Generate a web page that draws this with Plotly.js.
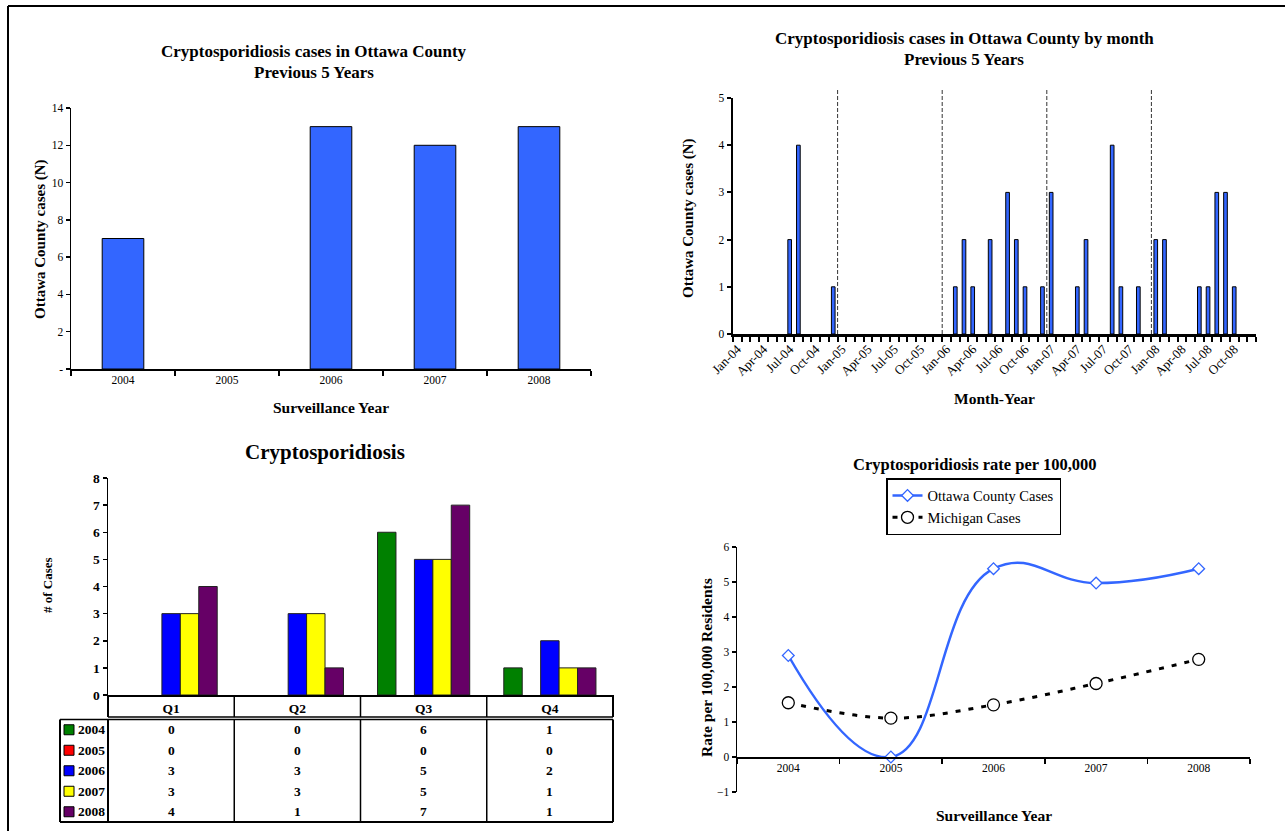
<!DOCTYPE html>
<html><head><meta charset="utf-8">
<script src="https://cdn.plot.ly/plotly-3.0.1.min.js"></script>
<style>html,body{margin:0;padding:0;background:#fff}#chart{width:1285px;height:831px}</style>
</head><body><div id="chart"></div>
<script>
// ---------- DATA ----------
const years = ['2004', '2005', '2006', '2007', '2008'];
const annualCases = [7, 0, 13, 12, 13];

const months = [
  'Jan-04','Feb-04','Mar-04','Apr-04','May-04','Jun-04','Jul-04','Aug-04','Sep-04','Oct-04','Nov-04','Dec-04',
  'Jan-05','Feb-05','Mar-05','Apr-05','May-05','Jun-05','Jul-05','Aug-05','Sep-05','Oct-05','Nov-05','Dec-05',
  'Jan-06','Feb-06','Mar-06','Apr-06','May-06','Jun-06','Jul-06','Aug-06','Sep-06','Oct-06','Nov-06','Dec-06',
  'Jan-07','Feb-07','Mar-07','Apr-07','May-07','Jun-07','Jul-07','Aug-07','Sep-07','Oct-07','Nov-07','Dec-07',
  'Jan-08','Feb-08','Mar-08','Apr-08','May-08','Jun-08','Jul-08','Aug-08','Sep-08','Oct-08','Nov-08','Dec-08'
];
const monthlyCases = [
  0,0,0,0,0,0,2,4,0,0,0,1,
  0,0,0,0,0,0,0,0,0,0,0,0,
  0,1,2,1,0,2,0,3,2,1,0,1,
  3,0,0,1,2,0,0,4,1,0,1,0,
  2,2,0,0,0,1,1,3,3,1,0,0
];
const labeledMonths = ['Jan', 'Apr', 'Jul', 'Oct'];

const quarters = ['Q1', 'Q2', 'Q3', 'Q4'];
const q2004 = [0, 0, 6, 1];
const q2005 = [0, 0, 0, 0];
const q2006 = [3, 3, 5, 2];
const q2007 = [3, 3, 5, 1];
const q2008 = [4, 1, 7, 1];
const quarterColors = ['#008000', '#ff0000', '#0000ff', '#ffff00', '#660066'];

const ottawaRate = [2.9, 0, 5.38, 4.97, 5.38];
const michiganRate = [1.55, 1.11, 1.49, 2.1, 2.79];

// ---------- HELPERS ----------
const W = 1285, H = 831;
const px = v => v / W;
const py = v => 1 - v / H;
const FONT = 'Liberation Serif, Times New Roman, serif';
const BLUE = '#3366ff';
const edge = (vals, w) => vals.map(v => v === 0 ? 0 : w);

const quarterSeries = [q2004, q2005, q2006, q2007, q2008];

const traces = [];
// Panel 1
traces.push({
  type: 'bar', x: years, y: annualCases, xaxis: 'x', yaxis: 'y', width: 0.4,
  marker: {color: BLUE, line: {color: '#000', width: edge(annualCases, 1)}}, showlegend: false, hoverinfo: 'skip'
});
// Panel 2
traces.push({
  type: 'bar', x: months, y: monthlyCases, xaxis: 'x2', yaxis: 'y2', width: 0.42,
  marker: {color: BLUE, line: {color: '#000', width: edge(monthlyCases, 1)}}, showlegend: false, hoverinfo: 'skip'
});
// Panel 3
years.forEach((yr, i) => {
  traces.push({
    type: 'bar', x: quarters, y: quarterSeries[i], xaxis: 'x3', yaxis: 'y3', name: yr,
    marker: {color: quarterColors[i], line: {color: '#222', width: edge(quarterSeries[i], 1)}},
    showlegend: false, hoverinfo: 'skip'
  });
});
// Panel 4
traces.push({
  type: 'scatter', mode: 'lines+markers', x: years, y: ottawaRate, xaxis: 'x4', yaxis: 'y4',
  name: 'Ottawa County Cases', line: {color: '#3366ff', width: 2.5, shape: 'spline', smoothing: 1.3},
  marker: {symbol: 'diamond', size: 9, color: '#fff', line: {width: 1.3, color: '#3366ff'}},
  cliponaxis: false
});
traces.push({
  type: 'scatter', mode: 'lines+markers', x: years, y: michiganRate, xaxis: 'x4', yaxis: 'y4',
  name: 'Michigan Cases', line: {color: '#000', width: 3, dash: '5px,8px', shape: 'spline', smoothing: 1},
  marker: {symbol: 'circle', size: 12, color: '#fff', line: {width: 1.3, color: '#000'}},
  cliponaxis: false
});

const baseAxis = {
  showline: true, linecolor: '#000', showgrid: false, zeroline: false, ticks: 'outside',
  tickcolor: '#000', fixedrange: true
};

const monthTickText = months.map(m => labeledMonths.includes(m.slice(0, 3)) ? m : '');

const annotations = [];
const ann = (text, x, y, size, opts = {}) => annotations.push(Object.assign({
  text: text, x: px(x), y: py(y), xref: 'paper', yref: 'paper', showarrow: false,
  xanchor: 'center', yanchor: 'middle', font: {family: FONT, size: size, color: '#000'}
}, opts));

// Titles
ann('<b>Cryptosporidiosis cases in Ottawa County</b>', 314, 52, 17);
ann('<b>Previous 5 Years</b>', 314, 73, 17);
ann('<b>Ottawa County cases (N)</b>', 40, 239, 15, {textangle: -90});
ann('<b>Surveillance Year</b>', 331, 407, 15.5);

ann('<b>Cryptosporidiosis cases in Ottawa County by month</b>', 964, 38, 17);
ann('<b>Previous 5 Years</b>', 964, 59, 17);
ann('<b>Ottawa County cases (N)</b>', 688, 218, 15, {textangle: -90});
ann('<b>Month-Year</b>', 994, 399, 15.5);

ann('<b>Cryptosporidiosis</b>', 325, 452, 21);
ann('<b># of Cases</b>', 47, 585, 13, {textangle: -90});

ann('<b>Cryptosporidiosis rate per 100,000</b>', 975, 464, 16.5);
ann('<b>Rate per 100,000 Residents</b>', 706, 668, 15.5, {textangle: -90});
ann('<b>Surveillance Year</b>', 994, 815, 15.5);

// Table for panel 3
const shapes = [];
const tblLeft = 60, tblRight = 613, axLeft = 108, headTop = 695, headBot = 717, bodyTop = 719.5, bodyBot = 822;
const rowH = (bodyBot - bodyTop) / years.length;
const line = (x0, y0, x1, y1, w) => shapes.push({type: 'line', xref: 'paper', yref: 'paper',
  x0: px(x0), y0: py(y0), x1: px(x1), y1: py(y1), line: {color: '#000', width: w}});
const colW = (tblRight - axLeft) / quarters.length;
for (let k = 0; k <= quarters.length; k++) {
  const xe = axLeft + k * colW;
  line(xe, headTop, xe, headBot, k === 0 || k === quarters.length ? 2 : 1.5);
  line(xe, bodyTop, xe, bodyBot, k === 0 || k === quarters.length ? 2 : 1.5);
}
line(axLeft, headBot, tblRight, headBot, 1.5);
line(tblLeft, bodyTop, tblRight, bodyTop, 1.5);
line(tblLeft, bodyBot, tblRight, bodyBot, 2);
line(tblLeft, bodyTop, tblLeft, bodyBot, 2);

years.forEach((yr, r) => {
  const yc = bodyTop + rowH * (r + 0.5);
  shapes.push({type: 'rect', xref: 'paper', yref: 'paper', x0: px(64), x1: px(74), y0: py(yc + 5), y1: py(yc - 5),
    fillcolor: quarterColors[r], line: {color: '#000', width: 1}});
  ann('<b>' + yr + '</b>', 76, yc, 13.5, {xanchor: 'left'});
  quarters.forEach((q, c) => {
    annotations.push({text: '<b>' + quarterSeries[r][c] + '</b>', x: q, xref: 'x3', y: py(yc), yref: 'paper',
      showarrow: false, xanchor: 'center', yanchor: 'middle', font: {family: FONT, size: 13.5, color: '#000'}});
  });
});

// Year dividers on monthly chart (at each January boundary)
months.forEach((m, i) => {
  if (i > 0 && m.startsWith('Jan')) {
    shapes.push({type: 'line', xref: 'x2', yref: 'paper', x0: i - 0.5, x1: i - 0.5, y0: py(334), y1: py(90),
      line: {color: '#333', width: 1, dash: '4px,2px'}});
  }
});

// Outer frame
line(8, 6, 1285, 6, 2);
line(8, 6, 8, 831, 2);

const layout = {
  width: W, height: H, margin: {l: 0, r: 0, t: 0, b: 0},
  paper_bgcolor: '#fff', plot_bgcolor: 'rgba(0,0,0,0)',
  font: {family: FONT, color: '#000', size: 11},
  barmode: 'group', bargap: 0.27, bargroupgap: 0,
  showlegend: true,
  legend: {x: px(886), y: py(478), xanchor: 'left', yanchor: 'top', bordercolor: '#000', borderwidth: 1.5,
    bgcolor: '#fff', font: {family: FONT, size: 14.5, color: '#000'}, tracegroupgap: 0, itemwidth: 30},
  xaxis: Object.assign({}, baseAxis, {domain: [px(71), px(591)], anchor: 'y', type: 'category',
    range: [-0.5, 4.5], tickson: 'boundaries', ticklen: 5, linewidth: 1.5, tickwidth: 1.5,
    tickfont: {family: FONT, size: 11.5}}),
  yaxis: Object.assign({}, baseAxis, {domain: [py(369), py(108)], anchor: 'x', range: [0, 14],
    tickvals: [0, 2, 4, 6, 8, 10, 12, 14], ticktext: ['-', '2', '4', '6', '8', '10', '12', '14'],
    ticklen: 4, linewidth: 1.5, tickwidth: 1.5, tickfont: {family: FONT, size: 11.5}}),
  xaxis2: Object.assign({}, baseAxis, {domain: [px(733), px(1256)], anchor: 'y2', type: 'category',
    range: [-0.5, 59.5], tickmode: 'array', tickvals: months, ticktext: monthTickText, tickangle: -45,
    tickson: 'boundaries', ticklen: 5, linewidth: 2.5, tickwidth: 2, tickfont: {family: FONT, size: 13}}),
  yaxis2: Object.assign({}, baseAxis, {domain: [py(334), py(98)], anchor: 'x2', range: [0, 5], dtick: 1,
    ticklen: 4, linewidth: 2.5, tickwidth: 2, tickfont: {family: FONT, size: 11.5}}),
  xaxis3: Object.assign({}, baseAxis, {domain: [px(108), px(613)], anchor: 'y3', type: 'category',
    range: [-0.5, 3.5], ticks: '', linewidth: 2, tickfont: {family: FONT, size: 13.5, weight: 'bold'}}),
  yaxis3: Object.assign({}, baseAxis, {domain: [py(695), py(478)], anchor: 'x3', range: [0, 8], dtick: 1,
    ticklen: 4, linewidth: 1.5, tickwidth: 1.5, tickfont: {family: FONT, size: 13.5, weight: 'bold'}}),
  xaxis4: Object.assign({}, baseAxis, {domain: [px(737), px(1250)], anchor: 'free', position: py(757),
    type: 'category', range: [-0.5, 4.5], tickson: 'boundaries', ticklen: 5, linewidth: 1.5, tickwidth: 1.5,
    tickfont: {family: FONT, size: 11.5}}),
  yaxis4: Object.assign({}, baseAxis, {domain: [py(792), py(547)], anchor: 'x4', range: [-1, 6], dtick: 1,
    ticklen: 4, linewidth: 1.5, tickwidth: 1.5, tickfont: {family: FONT, size: 11.5}}),
  annotations: annotations,
  shapes: shapes
};

Plotly.newPlot('chart', traces, layout, {staticPlot: true, displayModeBar: false});
</script>
</body></html>
